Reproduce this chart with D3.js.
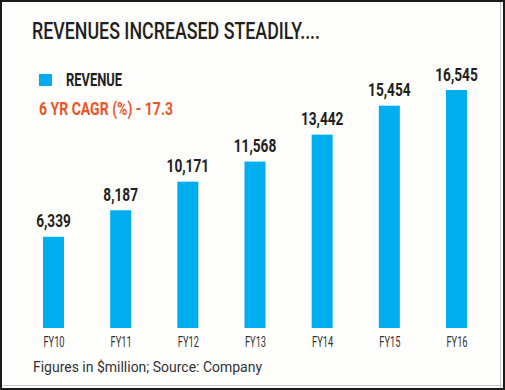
<!DOCTYPE html>
<html>
<head>
<meta charset="utf-8">
<script src="https://cdn.jsdelivr.net/npm/d3@7"></script>
<style>
  html, body { margin: 0; padding: 0; background: #fff; }
  svg { display: block; }
</style>
</head>
<body>
<svg id="chart" width="505" height="390"></svg>
<script>
const categories = ["FY10", "FY11", "FY12", "FY13", "FY14", "FY15", "FY16"];
const revenue = [6339, 8187, 10171, 11568, 13442, 15454, 16545];
const titleText = "REVENUES INCREASED STEADILY....";
const legendLabel = "REVENUE";
const cagrText = "6 YR CAGR (%) - 17.3";
const footnote = "Figures in $million; Source: Company";

const svg = d3.select("#chart");
const W = 505, H = 390;

// background and frame
svg.append("rect").attr("x", 0).attr("y", 0).attr("width", W).attr("height", H).attr("fill", "#fdfdfb");
svg.append("line").attr("x1", 500.5).attr("x2", 500.5).attr("y1", 2).attr("y2", 388).attr("stroke", "#c8c8c8").attr("stroke-width", 1);
svg.append("line").attr("x1", 2).attr("x2", 503).attr("y1", 385.5).attr("y2", 385.5).attr("stroke", "#c8c8c8").attr("stroke-width", 1);
svg.append("rect").attr("x", 1).attr("y", 1).attr("width", W - 2).attr("height", H - 2)
  .attr("fill", "none").attr("stroke", "#1a1a1a").attr("stroke-width", 2);

const x = d3.scalePoint().domain(categories).range([53.5, 456.5]).padding(0);
const y = d3.scaleLinear().domain([0, d3.max(revenue)]).range([328, 90]);
const barW = 21;
const blue = "#00aeef";
const dark = "#231f20";

// title
svg.append("text").attr("x", 32).attr("y", 39)
  .attr("font-family", "Roboto, 'Liberation Sans', sans-serif")
  .attr("font-size", 23).attr("font-weight", 500).attr("fill", dark)
  .attr("textLength", 288).attr("lengthAdjust", "spacingAndGlyphs")
  .text(titleText);

// legend
svg.append("rect").attr("x", 39).attr("y", 74).attr("width", 13).attr("height", 12).attr("fill", blue);
svg.append("text").attr("x", 66).attr("y", 86)
  .attr("font-family", "Roboto, 'Liberation Sans', sans-serif")
  .attr("font-size", 18).attr("font-weight", 700).attr("fill", dark)
  .attr("textLength", 56).attr("lengthAdjust", "spacingAndGlyphs")
  .text(legendLabel);
svg.append("text").attr("x", 39).attr("y", 115)
  .attr("font-family", "Roboto, 'Liberation Sans', sans-serif")
  .attr("font-size", 19).attr("font-weight", 700).attr("fill", "#e8562a")
  .attr("textLength", 134).attr("lengthAdjust", "spacingAndGlyphs")
  .text(cagrText);

const data = categories.map((c, i) => ({ cat: c, v: revenue[i] }));
const fmt = d3.format(",");

// bars
svg.append("g").selectAll("rect").data(data).join("rect")
  .attr("x", d => x(d.cat) - barW / 2)
  .attr("y", d => y(d.v))
  .attr("width", barW)
  .attr("height", d => y(0) - y(d.v))
  .attr("fill", blue);

// value labels
svg.append("g").selectAll("text").data(data).join("text")
  .attr("transform", d => `translate(${x(d.cat)},${y(d.v) - 9.5}) scale(0.76,1)`)
  .attr("text-anchor", "middle")
  .attr("font-family", "Roboto, 'Liberation Sans', sans-serif")
  .attr("font-size", 18).attr("font-weight", 700).attr("fill", dark)
  .text(d => fmt(d.v));

// category axis labels
const xAxis = d3.axisBottom(x).tickSize(0).tickPadding(0);
const gx = svg.append("g").attr("transform", "translate(0,336)").call(xAxis);
gx.select(".domain").remove();
gx.selectAll(".tick text")
  .attr("y", 0).attr("dy", null)
  .attr("transform", "translate(0,11) scale(0.6,1)")
  .attr("font-family", "Roboto, 'Liberation Sans', sans-serif")
  .attr("font-size", 15.5).attr("font-weight", 400).attr("fill", "#333");

// footnote
svg.append("text").attr("x", 33).attr("y", 372)
  .attr("font-family", "Roboto, 'Liberation Sans', sans-serif")
  .attr("font-size", 15).attr("font-weight", 400).attr("fill", "#333")
  .attr("textLength", 229).attr("lengthAdjust", "spacingAndGlyphs")
  .text(footnote);
</script>
</body>
</html>
